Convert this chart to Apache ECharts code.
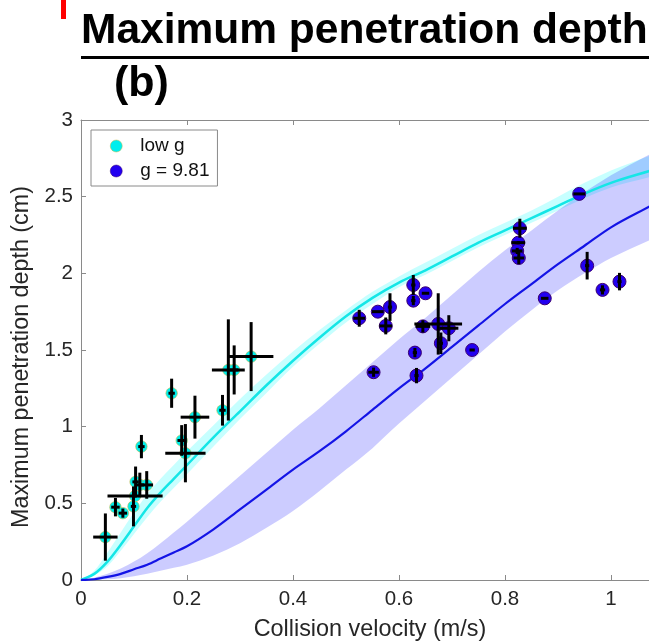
<!DOCTYPE html>
<html>
<head>
<meta charset="utf-8">
<script src="https://cdn.jsdelivr.net/npm/echarts@6/dist/echarts.min.js"></script>
<style>
html,body{margin:0;padding:0;background:#fff;}
#chart{width:649px;height:643px;}
</style>
</head>
<body>
<div id="chart"></div>
<script>
// ---- data ----
const xTicks = [0, 0.2, 0.4, 0.6, 0.8, 1];
const yTicks = [0, 0.5, 1, 1.5, 2, 2.5, 3];

// low g measurements
const lowX    = [0.046, 0.065, 0.079, 0.099, 0.102, 0.103, 0.114, 0.111, 0.124, 0.171, 0.190, 0.197, 0.215, 0.267, 0.278, 0.289, 0.321];
const lowY    = [0.28, 0.475, 0.436, 0.48, 0.548, 0.64, 0.87, 0.62, 0.62, 1.218, 0.91, 0.827, 1.062, 1.107, 1.37, 1.37, 1.457];
const lowXErr = [0.023, 0.008, 0.008, 0.005, 0.052, 0.006, 0.006, 0.008, 0.012, 0.006, 0.008, 0.038, 0.027, 0.006, 0.031, 0.008, 0.042];
const lowYErr = [0.154, 0.06, 0.03, 0.13, 0.01, 0.1, 0.076, 0.08, 0.09, 0.095, 0.1, 0.19, 0.14, 0.1, 0.33, 0.16, 0.225];

// g = 9.81 measurements
const highX    = [0.525, 0.560, 0.583, 0.575, 0.552, 0.627, 0.627, 0.650, 0.630, 0.633, 0.645, 0.674, 0.679, 0.694, 0.738, 0.828, 0.825, 0.823, 0.826, 0.940, 0.955, 0.875, 0.984, 1.016];
const highY    = [1.707, 1.75, 1.78, 1.657, 1.355, 1.924, 1.822, 1.87, 1.483, 1.333, 1.654, 1.67, 1.544, 1.642, 1.50, 2.294, 2.20, 2.146, 2.10, 2.518, 2.05, 1.837, 1.892, 1.946];
const highXErr = [0.011, 0.011, 0.004, 0.012, 0.01, 0.004, 0.004, 0.007, 0.004, 0.004, 0.014, 0.045, 0.004, 0.018, 0.005, 0.013, 0.013, 0.01, 0.01, 0.011, 0.004, 0.007, 0.005, 0.004];
const highYErr = [0.055, 0, 0.09, 0.055, 0.03, 0.065, 0.03, 0, 0.03, 0.05, 0.04, 0.2, 0.07, 0.085, 0, 0.062, 0.01, 0.02, 0.04, 0, 0.09, 0, 0.03, 0.057];

// model curves
const curveX    = [0, 0.025, 0.05, 0.075, 0.1, 0.125, 0.15, 0.175, 0.2, 0.25, 0.3, 0.35, 0.4, 0.45, 0.5, 0.55, 0.6, 0.65, 0.7, 0.75, 0.8, 0.85, 0.9, 0.95, 1.0, 1.075];
const lowLine   = [0, 0.04, 0.12, 0.23, 0.35, 0.47, 0.57, 0.66, 0.75, 0.93, 1.1, 1.27, 1.43, 1.58, 1.72, 1.84, 1.94, 2.02, 2.11, 2.2, 2.28, 2.36, 2.44, 2.52, 2.59, 2.67];
const lowUpper  = [0, 0.06, 0.18, 0.31, 0.44, 0.56, 0.66, 0.75, 0.84, 1.01, 1.18, 1.34, 1.49, 1.63, 1.76, 1.88, 1.98, 2.07, 2.16, 2.25, 2.33, 2.41, 2.5, 2.59, 2.67, 2.77];
const lowLower  = [0, 0.03, 0.09, 0.19, 0.3, 0.41, 0.51, 0.6, 0.69, 0.87, 1.05, 1.22, 1.39, 1.54, 1.68, 1.8, 1.91, 1.99, 2.08, 2.17, 2.25, 2.33, 2.41, 2.49, 2.56, 2.63];
const highLine  = [0, 0.005, 0.02, 0.04, 0.07, 0.1, 0.14, 0.18, 0.22, 0.33, 0.46, 0.59, 0.72, 0.84, 0.97, 1.11, 1.25, 1.38, 1.52, 1.66, 1.80, 1.93, 2.06, 2.18, 2.30, 2.44];
const highUpper = [0, 0.015, 0.04, 0.075, 0.12, 0.175, 0.24, 0.31, 0.38, 0.53, 0.68, 0.83, 0.98, 1.12, 1.27, 1.42, 1.57, 1.71, 1.86, 2.01, 2.15, 2.28, 2.41, 2.53, 2.64, 2.78];
const highLower = [0, 0.002, 0.005, 0.012, 0.025, 0.04, 0.06, 0.08, 0.1, 0.16, 0.24, 0.34, 0.45, 0.58, 0.72, 0.86, 1.02, 1.17, 1.32, 1.47, 1.62, 1.76, 1.89, 2.0, 2.1, 2.22];

// ---- build chart ----
const FONT = '"Liberation Sans", Arial, Helvetica, sans-serif';
const chart = echarts.init(document.getElementById('chart'), null, {renderer: 'canvas'});

function pairs(xs, ys) { return xs.map((x, i) => [x, ys[i]]); }

// monotone (Fritsch-Carlson) tangents for pixel points with increasing x
function tangents(p) {
  const n = p.length, d = [], m = new Array(n);
  for (let i = 0; i < n - 1; i++) d.push((p[i + 1][1] - p[i][1]) / (p[i + 1][0] - p[i][0]));
  m[0] = d[0]; m[n - 1] = d[n - 2];
  for (let i = 1; i < n - 1; i++) m[i] = (d[i - 1] * d[i] <= 0) ? 0 : (d[i - 1] + d[i]) / 2;
  for (let i = 0; i < n - 1; i++) {
    if (d[i] === 0) { m[i] = 0; m[i + 1] = 0; continue; }
    const a = m[i] / d[i], b = m[i + 1] / d[i], s = a * a + b * b;
    if (s > 9) { const t = 3 / Math.sqrt(s); m[i] = t * a * d[i]; m[i + 1] = t * b * d[i]; }
  }
  return m;
}
function forwardPath(p) {
  const m = tangents(p);
  let d = '';
  for (let i = 0; i < p.length - 1; i++) {
    const h = (p[i + 1][0] - p[i][0]) / 3;
    d += ' C' + (p[i][0] + h) + ' ' + (p[i][1] + m[i] * h) + ' ' +
         (p[i + 1][0] - h) + ' ' + (p[i + 1][1] - m[i + 1] * h) + ' ' + p[i + 1][0] + ' ' + p[i + 1][1];
  }
  return d;
}
function backwardPath(p) {
  const m = tangents(p);
  let d = '';
  for (let i = p.length - 1; i > 0; i--) {
    const h = (p[i][0] - p[i - 1][0]) / 3;
    d += ' C' + (p[i][0] - h) + ' ' + (p[i][1] - m[i] * h) + ' ' +
         (p[i - 1][0] + h) + ' ' + (p[i - 1][1] + m[i - 1] * h) + ' ' + p[i - 1][0] + ' ' + p[i - 1][1];
  }
  return d;
}

function bandSeries(up, lo, color) {
  return {
    type: 'custom', silent: true, z: 1, data: [0],
    renderItem: function (params, api) {
      const pu = curveX.map((x, i) => api.coord([x, up[i]]));
      const pl = curveX.map((x, i) => api.coord([x, lo[i]]));
      const n = pl.length;
      const d = 'M' + pu[0][0] + ' ' + pu[0][1] + forwardPath(pu) +
                ' L' + pl[n - 1][0] + ' ' + pl[n - 1][1] + backwardPath(pl) + ' Z';
      return { type: 'path', shape: { pathData: d }, style: { fill: color, stroke: null } };
    }
  };
}

function curveSeries(ys, color, width) {
  return {
    type: 'custom', silent: true, z: 3, data: [0],
    renderItem: function (params, api) {
      const p = curveX.map((x, i) => api.coord([x, ys[i]]));
      const d = 'M' + p[0][0] + ' ' + p[0][1] + forwardPath(p);
      return { type: 'path', shape: { pathData: d }, style: { fill: null, stroke: color, lineWidth: width } };
    }
  };
}

function errSeries(xs, ys, xe, ye) {
  return {
    type: 'custom', silent: true, z: 6,
    data: xs.map((x, i) => [x, ys[i], xe[i], ye[i]]),
    renderItem: function (params, api) {
      const x = api.value(0), y = api.value(1), ex = api.value(2), ey = api.value(3);
      const children = [];
      const st = { stroke: '#000', lineWidth: 3 };
      if (ey > 0) {
        const a = api.coord([x, y - ey]), b = api.coord([x, y + ey]);
        children.push({ type: 'line', shape: { x1: a[0], y1: a[1], x2: b[0], y2: b[1] }, style: st });
      }
      if (ex > 0) {
        const a = api.coord([x - ex, y]), b = api.coord([x + ex, y]);
        children.push({ type: 'line', shape: { x1: a[0], y1: a[1], x2: b[0], y2: b[1] }, style: st });
      }
      return { type: 'group', children: children };
    }
  };
}

const XMAX = 568 / 530;
const axisLineStyle = { color: '#8a8a8a', width: 1 };

const option = {
  animation: false,
  backgroundColor: '#fff',
  grid: { left: 81, right: 0, top: 120, bottom: 63, containLabel: false },
  xAxis: [{
    type: 'value', min: 0, max: XMAX, interval: 0.2, position: 'bottom',
    axisLine: { show: true, lineStyle: axisLineStyle },
    axisTick: { show: true, inside: true, length: 5, lineStyle: axisLineStyle },
    splitLine: { show: false },
    axisLabel: {
      show: true, margin: 9, color: '#262626', fontSize: 20.5, fontFamily: FONT, showMaxLabel: false,
      formatter: function (v) {
        for (const t of xTicks) if (Math.abs(v - t) < 1e-6) return String(t);
        return '';
      }
    }
  }, {
    type: 'value', min: 0, max: XMAX, interval: 0.2, position: 'top',
    axisLine: { show: true, lineStyle: axisLineStyle },
    axisTick: { show: true, inside: true, length: 5, lineStyle: axisLineStyle },
    splitLine: { show: false }, axisLabel: { show: false }
  }],
  yAxis: {
    type: 'value', min: 0, max: 3, interval: 0.5,
    axisLine: { show: true, lineStyle: axisLineStyle },
    axisTick: { show: true, inside: true, length: 5, lineStyle: axisLineStyle },
    splitLine: { show: false },
    axisLabel: {
      margin: 8, color: '#262626', fontSize: 20.5, fontFamily: FONT,
      formatter: function (v) {
        for (const t of yTicks) if (Math.abs(v - t) < 1e-6) return String(t);
        return '';
      }
    }
  },
  legend: {
    left: 91, top: 130, orient: 'vertical',
    data: ['low g', 'g = 9.81'],
    backgroundColor: '#fff', borderColor: '#8a8a8a', borderWidth: 1, borderRadius: 0,
    padding: [6, 8, 5, 19], itemGap: 5, itemWidth: 12, itemHeight: 12,
    itemStyle: { borderWidth: 0.5 },
    textStyle: { fontSize: 19, fontFamily: FONT, color: '#111', lineHeight: 20, padding: [0, 0, 0, 13] },
    selectedMode: false
  },
  graphic: [
    { type: 'rect', shape: { x: 61, y: 0, width: 5, height: 19 }, style: { fill: '#ff0000' } },
    { type: 'text', x: 81, y: 31,
      style: { text: 'Maximum penetration depth', font: 'bold 42.5px ' + FONT, fill: '#000',
               textAlign: 'left', textVerticalAlign: 'middle', align: 'left', verticalAlign: 'middle' } },
    { type: 'rect', shape: { x: 81, y: 56, width: 568, height: 3 }, style: { fill: '#000' } },
    { type: 'text', x: 114, y: 84,
      style: { text: '(b)', font: 'bold 43px ' + FONT, fill: '#000',
               textAlign: 'left', textVerticalAlign: 'middle', align: 'left', verticalAlign: 'middle' } },
    { type: 'text', x: 370, y: 630,
      style: { text: 'Collision velocity (m/s)', font: '23.4px ' + FONT, fill: '#262626',
               textAlign: 'center', textVerticalAlign: 'middle', align: 'center', verticalAlign: 'middle' } },
    { type: 'text', x: 22, y: 357, rotation: Math.PI / 2,
      style: { text: 'Maximum penetration depth (cm)', font: '23.3px ' + FONT, fill: '#262626',
               textAlign: 'center', textVerticalAlign: 'middle', align: 'center', verticalAlign: 'middle' } }
  ],
  series: [
    bandSeries(lowUpper, lowLower, 'rgba(0,255,255,0.22)'),
    bandSeries(highUpper, highLower, 'rgba(0,0,255,0.2)'),
    curveSeries(lowLine, '#14e6e6', 2.5),
    curveSeries(highLine, '#1414e6', 2.2),
    { type: 'scatter', name: 'low g', data: pairs(lowX, lowY), symbol: 'circle', symbolSize: 11.5, z: 5,
      itemStyle: { color: '#00eeee', borderColor: '#c8b84a', borderWidth: 0.6, opacity: 1 } },
    { type: 'scatter', name: 'g = 9.81', data: pairs(highX, highY), symbol: 'circle', symbolSize: 13, z: 5,
      itemStyle: { color: '#2200f0', borderColor: '#3a0070', borderWidth: 1, opacity: 1 } },
    errSeries(lowX, lowY, lowXErr, lowYErr),
    errSeries(highX, highY, highXErr, highYErr)
  ]
};
chart.setOption(option);
</script>
</body>
</html>
